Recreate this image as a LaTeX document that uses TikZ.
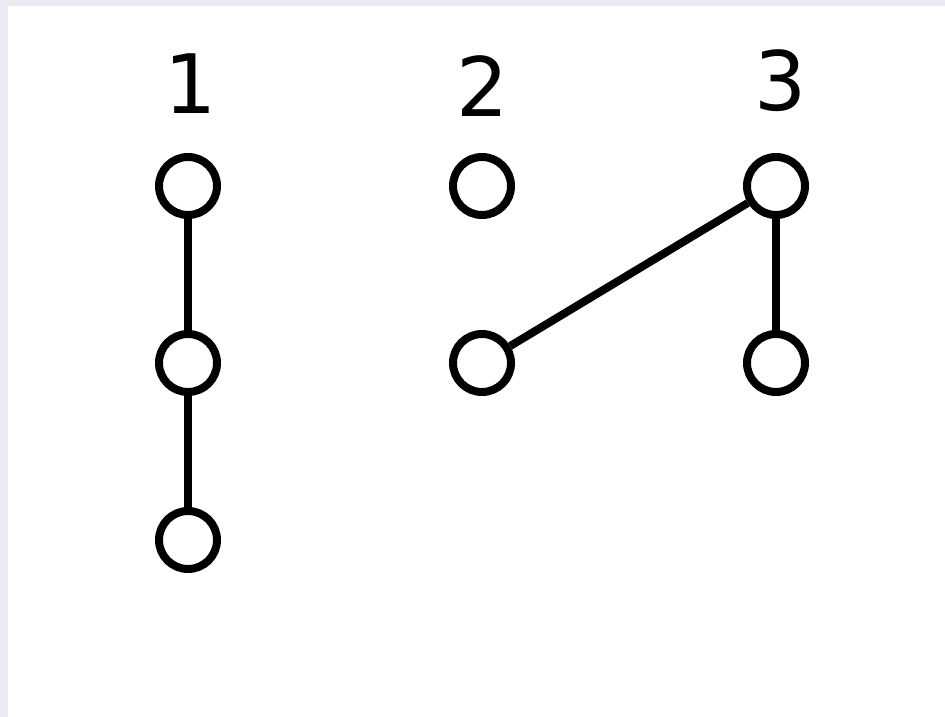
\documentclass[tikz,border=0pt]{standalone}
\usepackage{fontspec}
\setmainfont{DejaVu Sans}
\definecolor{frame}{HTML}{EAEAF2}
\begin{document}
\begin{tikzpicture}[x=1pt,y=-1pt,
  vertex/.style={circle,draw=black,line width=8pt,fill=white,minimum size=58pt,inner sep=0pt},
  edge/.style={line width=8pt,draw=black},
  treelabel/.style={inner sep=0pt,font=\fontsize{82}{82}\selectfont}]
  % canvas
  \fill[frame] (0,0) rectangle (945,717);
  \fill[white] (8,6) rectangle (945,717);
  \useasboundingbox (0,0) rectangle (945,717);
  % tree labels
  \node[treelabel] (l1) at (191,84) {1};
  \node[treelabel] (l2) at (483,86) {2};
  \node[treelabel] (l3) at (781,81) {3};
  % vertices
  \node[vertex] (a1) at (188,186) {};
  \node[vertex] (a2) at (188,363) {};
  \node[vertex] (a3) at (188,540) {};
  \node[vertex] (b1) at (482,186) {};
  \node[vertex] (b2) at (482,363) {};
  \node[vertex] (c1) at (776,186) {};
  \node[vertex] (c2) at (776,363) {};
  % edges
  \draw[edge] (a1) -- (a2);
  \draw[edge] (a2) -- (a3);
  \draw[edge] (c1) -- (b2);
  \draw[edge] (c1) -- (c2);
\end{tikzpicture}
\end{document}
